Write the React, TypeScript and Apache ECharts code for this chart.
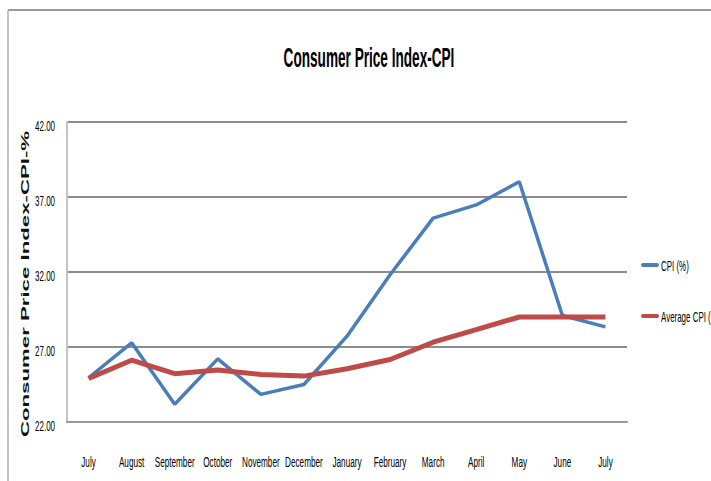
import React, { useEffect, useRef } from "react";
import * as echarts from "echarts";

const months = ["July", "August", "September", "October", "November", "December", "January", "February", "March", "April", "May", "June", "July"];
const cpiValues = [24.95, 27.28, 23.18, 26.21, 23.84, 24.5, 27.72, 31.82, 35.59, 36.47, 38.02, 29.1, 28.34];
const avgCpiValues = [24.9, 26.12, 25.22, 25.46, 25.17, 25.06, 25.55, 26.17, 27.32, 28.16, 29.0, 29.0, 29.0];
const yTicks = [22, 27, 32, 37, 42];
const titleText = "Consumer Price Index-CPI";
const yAxisTitle = "Consumer Price Index-CPI-%";
const seriesNames = ["CPI (%)", "Average CPI (%)"];
const seriesColors = ["#4a7ebb", "#be4b48"];

const FONT = "'Liberation Sans', Arial, sans-serif";

export default function App() {
  const ref = useRef<HTMLDivElement>(null);
  useEffect(() => {
    if (!ref.current) return;
    const chart = echarts.init(ref.current, null, { renderer: "svg" });
    chart.setOption({
      animation: false,
      backgroundColor: "#ffffff",
      grid: { left: 67, right: 84, top: 122, bottom: 59, containLabel: false },
      xAxis: {
        type: "category",
        data: months,
        boundaryGap: true,
        axisLine: { show: true, lineStyle: { color: "#9a9a9a", width: 2 } },
        axisTick: { show: false },
        axisLabel: { show: false },
        splitLine: { show: false },
      },
      yAxis: {
        type: "value",
        min: yTicks[0],
        max: yTicks[yTicks.length - 1],
        interval: yTicks[1] - yTicks[0],
        axisLine: { show: true, lineStyle: { color: "#c4c4c4", width: 2 } },
        axisTick: { show: false },
        axisLabel: { show: false },
        splitLine: { show: true, lineStyle: { color: "#8c8c8c", width: 2 } },
      },
      series: [
        {
          name: seriesNames[0],
          type: "line",
          data: cpiValues,
          symbol: "none",
          lineStyle: { color: seriesColors[0], width: 3.5 },
          itemStyle: { color: seriesColors[0] },
        },
        {
          name: seriesNames[1],
          type: "line",
          data: avgCpiValues,
          symbol: "none",
          lineStyle: { color: seriesColors[1], width: 5 },
          itemStyle: { color: seriesColors[1] },
        },
      ],
    });

    const graphics: any[] = [
      { type: "line", shape: { x1: 8, y1: 10, x2: 711, y2: 10 }, style: { stroke: "#9a9a9a", lineWidth: 2 } },
      { type: "line", shape: { x1: 8, y1: 10, x2: 8, y2: 481 }, style: { stroke: "#b0b0b0", lineWidth: 1.5 } },
      {
        type: "text",
        x: 369,
        y: 57,
        scaleX: 0.486,
        style: { text: titleText, fontFamily: FONT, fontWeight: "bold", fontSize: 28, fill: "#000", align: "center", verticalAlign: "middle" },
      },
      {
        type: "text",
        x: 25,
        y: 284,
        rotation: Math.PI / 2,
        scaleX: 1.17,
        scaleY: 0.6,
        style: { text: yAxisTitle, fontFamily: FONT, fontWeight: "bold", fontSize: 19, fill: "#111", align: "center", verticalAlign: "middle" },
      },
    ];

    // x-axis category labels, placed via the axis scale
    const baseY = chart.convertToPixel({ yAxisIndex: 0 }, yTicks[0]) as number;
    months.forEach((m, i) => {
      const px = chart.convertToPixel({ xAxisIndex: 0 }, i) as number;
      graphics.push({
        type: "text",
        x: px,
        y: baseY + 40,
        scaleX: 0.545,
        style: { text: m, fontFamily: FONT, fontSize: 15, fill: "#000", align: "center", verticalAlign: "middle" },
      });
    });
    // y-axis tick labels
    yTicks.forEach((v) => {
      const py = chart.convertToPixel({ yAxisIndex: 0 }, v) as number;
      graphics.push({
        type: "text",
        x: 55,
        y: py + 4.5,
        scaleX: 0.57,
        style: { text: v.toFixed(2), fontFamily: FONT, fontSize: 14, fill: "#000", align: "right", verticalAlign: "middle" },
      });
    });
    // legend
    const legendY = [265, 316];
    seriesNames.forEach((name, i) => {
      graphics.push({
        type: "rect",
        shape: { x: 641, y: legendY[i] - 2, width: 18, height: 4, r: 2 },
        style: { fill: seriesColors[i] },
      });
      graphics.push({
        type: "text",
        x: 661,
        y: legendY[i] + 1,
        scaleX: 0.53,
        style: { text: name, fontFamily: FONT, fontSize: 15, fill: "#000", align: "left", verticalAlign: "middle" },
      });
    });

    chart.setOption({ graphic: graphics });
    return () => chart.dispose();
  }, []);
  return <div ref={ref} style={{ position: "fixed", left: 0, top: 0, width: 711, height: 481 }} />;
}
